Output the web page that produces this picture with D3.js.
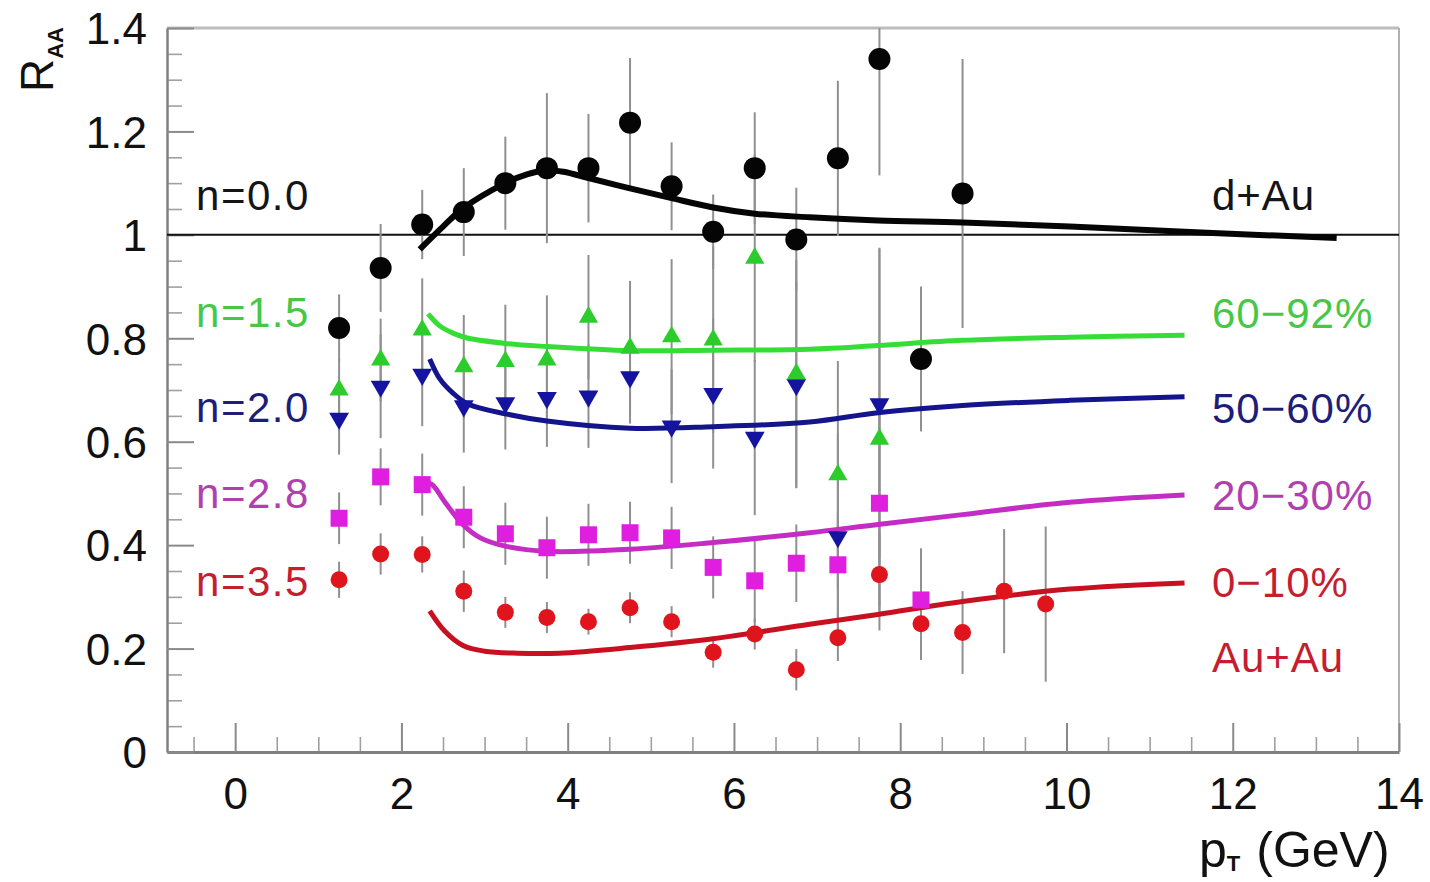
<!DOCTYPE html>
<html>
<head>
<meta charset="utf-8">
<script src="https://cdn.jsdelivr.net/npm/d3@7"></script>
<style>
  body { margin: 0; background: #fff; }
  svg { display: block; }
  text { font-family: "Liberation Sans", Arial, Helvetica, sans-serif; }
</style>
</head>
<body>
<svg id="chart" width="1430" height="882"></svg>
<script>
// pT bin centres (GeV)
const ptBins = [1.25, 1.75, 2.25, 2.75, 3.25, 3.75, 4.25, 4.75, 5.25, 5.75,
                6.25, 6.75, 7.25, 7.75, 8.25, 8.75, 9.25, 9.75];

// d+Au measurement
const dAuValues = [0.82, 0.936, 1.02, 1.044, 1.10, 1.129, 1.129, 1.217, 1.094, 1.006,
                   1.129, 0.991, 1.148, 1.34, 0.76, 1.08];
const dAuErrors = [0.065, 0.085, 0.067, 0.085, 0.09, 0.145, 0.105, 0.125, 0.085, 0.072,
                   0.108, 0.10, 0.15, 0.225, 0.14, 0.26];

// Au+Au 60-92% centrality
const peri60Values = [0.70, 0.758, 0.816, 0.745, 0.755, 0.758, 0.841, 0.781, 0.803, 0.797,
                      0.955, 0.731, 0.536, 0.605];
const peri60Errors = [0.06, 0.08, 0.10, 0.10, 0.11, 0.125, 0.12, 0.13, 0.15, 0.18,
                      0.20, 0.22, 0.22, 0.37];

// Au+Au 50-60% centrality
const mid50Values = [0.645, 0.707, 0.73, 0.669, 0.675, 0.685, 0.688, 0.725, 0.630, 0.693,
                     0.608, 0.71, 0.416, 0.673];
const mid50Errors = [0.07, 0.10, 0.10, 0.09, 0.09, 0.095, 0.10, 0.09, 0.11, 0.145,
                     0.15, 0.20, 0.20, 0.30];

// Au+Au 20-30% centrality
const semi20Values = [0.452, 0.532, 0.517, 0.454, 0.422, 0.395, 0.42, 0.424, 0.414, 0.357,
                      0.331, 0.365, 0.362, 0.481, 0.294];
const semi20Errors = [0.05, 0.055, 0.06, 0.06, 0.06, 0.06, 0.06, 0.06, 0.06, 0.06,
                      0.08, 0.075, 0.10, 0.20, 0.10];

// Au+Au 0-10% centrality
const central0Values = [0.333, 0.383, 0.382, 0.311, 0.27, 0.26, 0.252, 0.279, 0.252, 0.193,
                        0.228, 0.159, 0.221, 0.343, 0.248, 0.231, 0.311, 0.286];
const central0Errors = [0.035, 0.04, 0.035, 0.04, 0.03, 0.03, 0.025, 0.03, 0.03, 0.03,
                        0.03, 0.04, 0.045, 0.08, 0.07, 0.08, 0.12, 0.15];

// model curves (opacity parameter n)
const curveDAuX = [2.22, 2.50, 2.74, 3.25, 3.51, 3.75, 3.95, 4.25, 4.75, 5.25, 5.75, 6.25,
                   6.91, 7.73, 8.75, 10.04, 11.69, 13.25];
const curveDAuY = [0.972, 1.016, 1.051, 1.100, 1.117, 1.125, 1.122, 1.110, 1.090, 1.071, 1.053, 1.041,
                   1.034, 1.028, 1.024, 1.016, 1.004, 0.994];

const curveN15X = [2.32, 2.46, 2.62, 2.78, 3.25, 3.75, 4.75, 5.75, 6.91, 7.73, 8.75, 10.04, 11.42];
const curveN15Y = [0.847, 0.824, 0.810, 0.801, 0.790, 0.784, 0.776, 0.777, 0.779, 0.786, 0.796, 0.802, 0.806];

const curveN20X = [2.34, 2.46, 2.62, 2.80, 3.25, 3.75, 4.75, 5.75, 6.91, 7.73, 8.75, 10.04, 11.42];
const curveN20Y = [0.760, 0.722, 0.694, 0.673, 0.654, 0.640, 0.626, 0.629, 0.638, 0.656, 0.670, 0.680, 0.687];

const curveN28X = [2.22, 2.36, 2.52, 2.72, 2.95, 3.25, 3.75, 4.75, 5.75, 6.91, 7.73, 8.75, 10.04, 11.42];
const curveN28Y = [0.522, 0.518, 0.484, 0.443, 0.414, 0.398, 0.388, 0.392, 0.405, 0.424, 0.440, 0.459, 0.483, 0.497];

const curveN35X = [2.34, 2.52, 2.74, 3.0, 3.4, 3.9, 4.75, 5.75, 6.91, 7.73, 8.75, 10.04, 11.42];
const curveN35Y = [0.273, 0.234, 0.206, 0.195, 0.191, 0.191, 0.202, 0.219, 0.247, 0.266, 0.291, 0.315, 0.327];

// axis ticks
const xMajorTicks = [0, 2, 4, 6, 8, 10, 12, 14];
const yMajorTicks = [0, 0.2, 0.4, 0.6, 0.8, 1, 1.2, 1.4];

// ---------------------------------------------------------------------------
const svg = d3.select("#chart");
const plotLeft = 167, plotRight = 1399, plotTop = 28, plotBottom = 752;

const x = d3.scaleLinear().domain([-0.82, 14]).range([plotLeft, plotRight]);
const y = d3.scaleLinear().domain([0, 1.4]).range([plotBottom, plotTop]);

svg.append("rect").attr("width", 1430).attr("height", 882).attr("fill", "#fff");

svg.append("clipPath").attr("id", "plotClip")
  .append("rect").attr("x", plotLeft).attr("y", plotTop)
  .attr("width", plotRight - plotLeft).attr("height", plotBottom - plotTop);

// frame (top and right)
svg.append("line").attr("x1", plotLeft).attr("x2", plotRight).attr("y1", plotTop).attr("y2", plotTop)
  .attr("stroke", "#bdbdbd").attr("stroke-width", 3);
svg.append("line").attr("x1", plotRight).attr("x2", plotRight).attr("y1", plotTop).attr("y2", plotBottom)
  .attr("stroke", "#b0b0b0").attr("stroke-width", 2);

// minor ticks
const xMinor = d3.range(-0.5, 14, 0.5).filter(v => Math.abs(v % 2) > 1e-6);
const yMinor = d3.range(0.05, 1.4, 0.05).filter(v => Math.abs(Math.round(v * 5) - v * 5) > 1e-6);

svg.append("g").attr("transform", `translate(0,${plotBottom})`)
  .call(d3.axisBottom(x).tickValues(xMinor).tickSize(-15).tickFormat("").tickSizeOuter(0))
  .call(g => g.select(".domain").remove())
  .call(g => g.selectAll("line").attr("stroke", "#a0a0a0").attr("stroke-width", 1.6));

svg.append("g").attr("transform", `translate(${plotLeft},0)`)
  .call(d3.axisLeft(y).tickValues(yMinor).tickSize(-15).tickFormat("").tickSizeOuter(0))
  .call(g => g.select(".domain").remove())
  .call(g => g.selectAll("line").attr("stroke", "#a0a0a0").attr("stroke-width", 1.6));

// major axes
const xAxis = svg.append("g").attr("transform", `translate(0,${plotBottom})`)
  .call(d3.axisBottom(x).tickValues(xMajorTicks).tickSize(-29).tickPadding(26)
        .tickFormat(d3.format("d")).tickSizeOuter(0));
xAxis.select(".domain").attr("stroke", "#808080").attr("stroke-width", 3);
xAxis.selectAll(".tick line").attr("stroke", "#8a8a8a").attr("stroke-width", 2);
xAxis.selectAll(".tick text").attr("font-size", 44).attr("fill", "#111")
  .attr("font-family", "'Liberation Sans', Arial, sans-serif");

const yAxis = svg.append("g").attr("transform", `translate(${plotLeft},0)`)
  .call(d3.axisLeft(y).tickValues(yMajorTicks).tickSize(-27).tickPadding(20)
        .tickFormat(d => d === 0 || d === 1 ? d3.format("d")(d) : d3.format(".1f")(d)).tickSizeOuter(0));
yAxis.select(".domain").attr("stroke", "#808080").attr("stroke-width", 2.5);
yAxis.selectAll(".tick line").attr("stroke", "#8a8a8a").attr("stroke-width", 2);
yAxis.selectAll(".tick text").attr("font-size", 44).attr("fill", "#111").attr("dy", "0.36em")
  .attr("font-family", "'Liberation Sans', Arial, sans-serif");

// R_AA = 1 reference
svg.append("line").attr("x1", plotLeft).attr("x2", plotRight).attr("y1", y(1)).attr("y2", y(1))
  .attr("stroke", "#111").attr("stroke-width", 2);

// axis titles
const yTitle = svg.append("text").attr("transform", "translate(53,92) rotate(-90)")
  .attr("fill", "#111");
yTitle.append("tspan").attr("font-size", 46).text("R");
yTitle.append("tspan").attr("font-size", 22).attr("dy", 10).attr("font-weight", "bold").text("AA");

const xTitle = svg.append("text").attr("x", 1199).attr("y", 867).attr("fill", "#111")
  .attr("font-size", 50);
xTitle.append("tspan").text("p");
xTitle.append("tspan").attr("font-size", 22).attr("dy", 4).attr("font-weight", "bold").text("T");
xTitle.append("tspan").attr("dy", -4).attr("dx", 16).text("(GeV)");

// series definitions
const series = [
  { values: central0Values, errors: central0Errors, cx: curveN35X, cy: curveN35Y,
    point: "#e0141c", line: "#c81020", shape: "circle", size: 8.5 },
  { values: semi20Values, errors: semi20Errors, cx: curveN28X, cy: curveN28Y,
    point: "#e01ee0", line: "#c42cc4", shape: "square", size: 17 },
  { values: mid50Values, errors: mid50Errors, cx: curveN20X, cy: curveN20Y,
    point: "#1414a0", line: "#14148c", shape: "down", size: 170 },
  { values: peri60Values, errors: peri60Errors, cx: curveN15X, cy: curveN15Y,
    point: "#2ccc2c", line: "#36dd36", shape: "up", size: 160 },
  { values: dAuValues, errors: dAuErrors, cx: curveDAuX, cy: curveDAuY,
    point: "#050505", line: "#050505", shape: "circle", size: 11 }
];

const plot = svg.append("g").attr("clip-path", "url(#plotClip)");

// error bars
series.forEach(s => {
  plot.append("g").selectAll("line")
    .data(s.values.map((v, i) => ({ pt: ptBins[i], v, e: s.errors[i] })))
    .join("line")
    .attr("x1", d => x(d.pt)).attr("x2", d => x(d.pt))
    .attr("y1", d => y(d.v - d.e)).attr("y2", d => y(d.v + d.e))
    .attr("stroke", "#909090").attr("stroke-width", 2);
});

// model curves
const line = d3.line().x(d => x(d[0])).y(d => y(d[1])).curve(d3.curveCatmullRom.alpha(0.5));
series.forEach(s => {
  plot.append("path")
    .datum(s.cx.map((v, i) => [v, s.cy[i]]))
    .attr("d", line)
    .attr("fill", "none")
    .attr("stroke", s.line)
    .attr("stroke-width", s.line === "#050505" ? 6 : 5)
    .attr("stroke-linecap", "butt");
});

// markers
series.forEach(s => {
  const pts = s.values.map((v, i) => ({ pt: ptBins[i], v }));
  const g = plot.append("g");
  if (s.shape === "circle") {
    g.selectAll("circle").data(pts).join("circle")
      .attr("cx", d => x(d.pt)).attr("cy", d => y(d.v)).attr("r", s.size)
      .attr("fill", s.point);
  } else if (s.shape === "square") {
    g.selectAll("rect").data(pts).join("rect")
      .attr("x", d => x(d.pt) - s.size / 2).attr("y", d => y(d.v) - s.size / 2)
      .attr("width", s.size).attr("height", s.size)
      .attr("fill", s.point);
  } else {
    const sym = d3.symbol().type(d3.symbolTriangle).size(s.size);
    g.selectAll("path").data(pts).join("path")
      .attr("d", sym)
      .attr("transform", d => `translate(${x(d.pt)},${y(d.v)})` + (s.shape === "down" ? " rotate(180)" : ""))
      .attr("fill", s.point);
  }
});

// curve parameter labels (left) and system labels (right)
const leftLabels = [
  { text: "n=0.0", at: 1.048, color: "#151515" },
  { text: "n=1.5", at: 0.822, color: "#46c846" },
  { text: "n=2.0", at: 0.638, color: "#1e1e78" },
  { text: "n=2.8", at: 0.472, color: "#b040b0" },
  { text: "n=3.5", at: 0.302, color: "#c41e30" }
];
const rightLabels = [
  { text: "d+Au", at: 1.048, color: "#151515" },
  { text: "60\u221292%", at: 0.820, color: "#46c846" },
  { text: "50\u221260%", at: 0.636, color: "#1e1e78" },
  { text: "20\u221230%", at: 0.468, color: "#b040b0" },
  { text: "0\u221210%", at: 0.300, color: "#c41e30" },
  { text: "Au+Au", at: 0.155, color: "#c41e30" }
];

svg.append("g").selectAll("text").data(leftLabels).join("text")
  .attr("x", x(-0.47)).attr("y", d => y(d.at))
  .attr("font-size", 42).attr("letter-spacing", 1.5)
  .attr("fill", d => d.color).text(d => d.text);

svg.append("g").selectAll("text").data(rightLabels).join("text")
  .attr("x", x(11.75)).attr("y", d => y(d.at))
  .attr("font-size", 42).attr("letter-spacing", 1)
  .attr("fill", d => d.color).text(d => d.text);
</script>
</body>
</html>
